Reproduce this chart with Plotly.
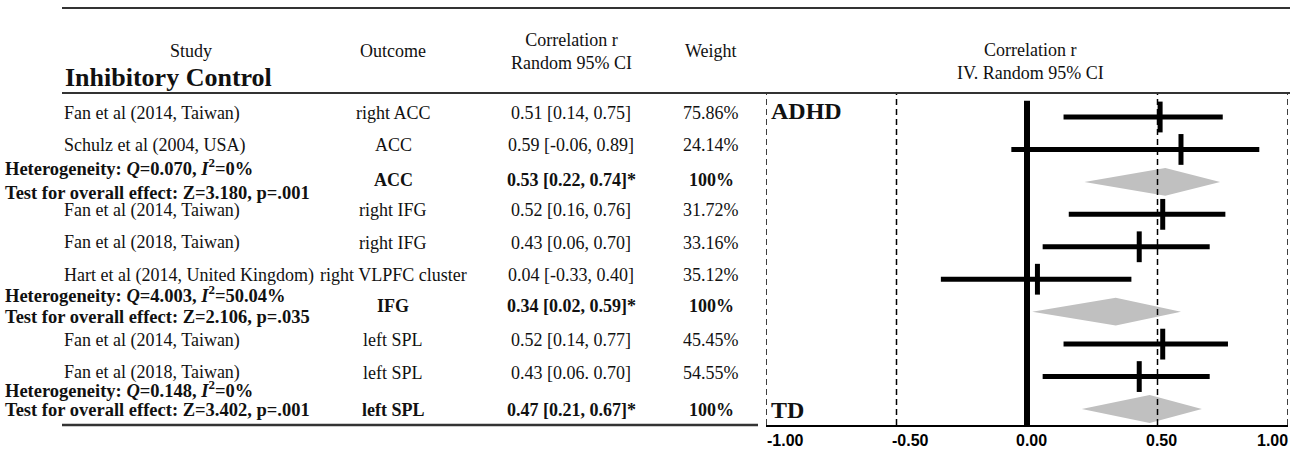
import plotly.graph_objects as go

# ---- data -------------------------------------------------------------
study_names = [
    "Fan et al (2014, Taiwan)",
    "Schulz et al (2004, USA)",
    "Fan et al (2014, Taiwan)",
    "Fan et al (2018, Taiwan)",
    "Hart et al (2014, United Kingdom)",
    "Fan et al (2014, Taiwan)",
    "Fan et al (2018, Taiwan)",
]
study_outcomes = ["right ACC", "ACC", "right IFG", "right IFG",
                  "right VLPFC cluster", "left SPL", "left SPL"]
study_r = [0.51, 0.59, 0.52, 0.43, 0.04, 0.52, 0.43]
study_lo = [0.14, -0.06, 0.16, 0.06, -0.33, 0.14, 0.06]
study_hi = [0.75, 0.89, 0.76, 0.70, 0.40, 0.77, 0.70]
study_ci_text = ["0.51 [0.14, 0.75]", "0.59 [-0.06, 0.89]", "0.52 [0.16, 0.76]",
                 "0.43 [0.06, 0.70]", "0.04 [-0.33, 0.40]", "0.52 [0.14, 0.77]",
                 "0.43 [0.06. 0.70]"]
study_weight = ["75.86%", "24.14%", "31.72%", "33.16%", "35.12%", "45.45%", "54.55%"]
study_row = [0, 1, 3, 4, 5, 7, 8]

pooled_outcome = ["ACC", "IFG", "left SPL"]
pooled_r = [0.53, 0.34, 0.47]
pooled_lo = [0.22, 0.02, 0.21]
pooled_hi = [0.74, 0.59, 0.67]
pooled_weight = ["100%", "100%", "100%"]
pooled_row = [2, 6, 9]

het_Q = ["0.070", "4.003", "0.148"]
het_I2 = ["0%", "50.04%", "0%"]
overall_Z = ["3.180", "2.106", "3.402"]
overall_p = [".001", ".035", ".001"]

x_ticks = [-1.0, -0.5, 0.0, 0.5, 1.0]
x_ticklabels = ["-1.00", "-0.50", "0.00", "0.50", "1.00"]
ref_dashed = [-1.0, -0.5, 0.5, 1.0]

# ---- layout geometry (pixels) -----------------------------------------
W, H = 1298, 452
SERIF = "Liberation Serif"
SANS = "Liberation Sans"
TXT = "#111111"
RULE = "#333333"

plot_left, plot_right = 766, 1288
plot_top, plot_bottom = 94, 425
y_range = [9.493, -0.709]

# column anchors of the table (px)
COL_STUDY, COL_OUTCOME, COL_CI, COL_WEIGHT, COL_STATS = 62, 393, 571, 711, 3

# horizontal nudges of the axis labels relative to their ticks (px)
tick_label_nudge = [19, 14, 4, 4, -16]
# vertical nudges of the pooled rows' text (px, positive = up)
pooled_text_nudge = [2, 6, -1]
# heterogeneity / overall-effect lines relative to the pooled row text (px)
stat_shift = [(13, -13), (12, -11), (21, 0)]


def px(x):
    return x / W


def py(y):
    return 1 - y / H


fig = go.Figure()

# pooled estimates as grey diamonds
half_h = 0.43
for r, lo, hi, row in zip(pooled_r, pooled_lo, pooled_hi, pooled_row):
    fig.add_trace(go.Scatter(
        x=[lo, r, hi, r, lo],
        y=[row, row - half_h, row, row + half_h, row],
        mode="lines", fill="toself", fillcolor="#c0c0c0",
        line=dict(width=0, color="#c0c0c0"), hoverinfo="skip",
    ))

# individual studies: CI bar plus vertical tick at the estimate
fig.add_trace(go.Scatter(
    x=study_r, y=study_row, mode="markers",
    marker=dict(symbol="line-ns", size=22, color="black",
                line=dict(width=5, color="black")),
    error_x=dict(type="data", symmetric=False,
                 array=[h - r for h, r in zip(study_hi, study_r)],
                 arrayminus=[r - l for r, l in zip(study_r, study_lo)],
                 thickness=5, width=0, color="black"),
    hoverinfo="skip",
))

shapes = []
# dashed reference lines
for xv in ref_dashed:
    shapes.append(dict(type="line", xref="x", yref="paper", x0=xv, x1=xv,
                       y0=py(plot_bottom), y1=py(plot_top),
                       line=dict(color="black", width=1.5, dash="6px,4px")))
# line of no effect
shapes.append(dict(type="line", xref="x", yref="y", x0=0, x1=0,
                   y0=-0.5, y1=y_range[0],
                   line=dict(color="black", width=6)))
# table rules
for y0, xa, xb, w in [(8, 62, 1290, 2), (93, 62, 1290, 2), (425, 62, 758, 2.5)]:
    shapes.append(dict(type="line", xref="paper", yref="paper",
                       x0=px(xa), x1=px(xb), y0=py(y0), y1=py(y0),
                       line=dict(color=RULE, width=w)))

ann = []


def text(x, y, s, size=18, xanchor="center", bold=False, yref="paper", yshift=0,
         family=SERIF, xref="paper", xshift=0, color=TXT):
    ann.append(dict(x=x, y=y, xref=xref, yref=yref, text=s, showarrow=False,
                    xanchor=xanchor, yanchor="middle", yshift=yshift, xshift=xshift,
                    font=dict(family=family, size=size, color=color,
                              weight="bold" if bold else "normal")))


# headers
text(px(191), py(51), "Study")
text(px(63), py(77), "Inhibitory Control", size=26, xanchor="left", bold=True)
text(px(COL_OUTCOME), py(51), "Outcome")
text(px(COL_CI), py(52), "Correlation r<br>Random 95% CI")
text(px(COL_WEIGHT), py(51), "Weight")
text(px(1030), py(62), "Correlation r<br>IV. Random 95% CI")

# study rows
ROW_SHIFT = 4
for name, oc, ci, wt, row in zip(study_names, study_outcomes, study_ci_text,
                                  study_weight, study_row):
    text(px(COL_STUDY), row, name, xanchor="left", yref="y", yshift=ROW_SHIFT)
    text(px(COL_OUTCOME), row, oc, yref="y", yshift=ROW_SHIFT)
    text(px(COL_CI), row, ci, yref="y", yshift=ROW_SHIFT)
    text(px(COL_WEIGHT), row, wt, yref="y", yshift=ROW_SHIFT)

# pooled rows with heterogeneity statistics
for k, row in enumerate(pooled_row):
    ci = f"{pooled_r[k]:.2f} [{pooled_lo[k]:.2f}, {pooled_hi[k]:.2f}]*"
    base = pooled_text_nudge[k]
    text(px(COL_OUTCOME), row, pooled_outcome[k], yref="y", yshift=base, bold=True)
    text(px(COL_CI), row, ci, yref="y", yshift=base, bold=True)
    text(px(COL_WEIGHT), row, pooled_weight[k], yref="y", yshift=base, bold=True)
    het = (f"Heterogeneity: <i>Q</i>={het_Q[k]}, "
           f"<i>I</i><sup>2</sup>={het_I2[k]}")
    test = f"Test for overall effect: Z={overall_Z[k]}, p={overall_p[k]}"
    text(px(COL_STATS), row, het, size=18.5, xanchor="left", yref="y",
         yshift=base + stat_shift[k][0], bold=True)
    text(px(COL_STATS), row, test, size=18.5, xanchor="left", yref="y",
         yshift=base + stat_shift[k][1], bold=True)

# group labels inside the plot
text(-1, 0, "ADHD", size=24, xanchor="left", bold=True, xref="x", yref="y",
     yshift=6, xshift=3)
text(-1, 9, "TD", size=24, xanchor="left", bold=True, xref="x", yref="y",
     yshift=-1, xshift=3)

# axis labels under the x axis
for tv, tl, dx in zip(x_ticks, x_ticklabels, tick_label_nudge):
    text(tv, py(440), tl, size=16, bold=True, family=SANS, xref="x", xshift=dx,
         color="#000000")

fig.update_layout(
    width=W, height=H,
    margin=dict(l=0, r=0, t=0, b=0),
    paper_bgcolor="white", plot_bgcolor="white",
    showlegend=False,
    shapes=shapes, annotations=ann,
    xaxis=dict(domain=[px(plot_left), px(plot_right)], range=[-1.0, 1.0],
               showline=True, linecolor="black", linewidth=2, mirror=False,
               showgrid=False, zeroline=False, ticks="",
               tickvals=x_ticks, showticklabels=False),
    yaxis=dict(domain=[py(plot_bottom), py(plot_top)], range=y_range,
               visible=False, showgrid=False, zeroline=False),
)

fig.write_html("out.html")
